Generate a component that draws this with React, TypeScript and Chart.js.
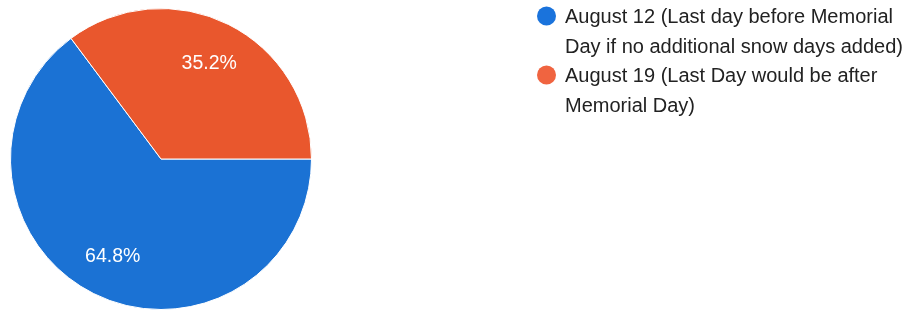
import React, { useEffect, useRef } from "react";
import { Chart, registerables } from "chart.js";

Chart.register(...registerables);

const categories = [
  "August 12 (Last day before Memorial Day if no additional snow days added)",
  "August 19 (Last Day would be after Memorial Day)",
];
const values = [64.8, 35.2];
const valueLabels = ["64.8%", "35.2%"];
const colors = ["#1b72d4", "#e9572d"];
const legendColors = ["#1a73dc", "#f06440"];

const FONT = "'Liberation Sans', Arial, Helvetica, sans-serif";

const sliceLabelPlugin = {
  id: "sliceLabels",
  afterDatasetsDraw(chart: any) {
    const ctx = chart.ctx;
    const meta = chart.getDatasetMeta(0);
    ctx.save();
    ctx.fillStyle = "#ffffff";
    ctx.font = `19.5px ${FONT}`;
    ctx.textAlign = "center";
    ctx.textBaseline = "middle";
    meta.data.forEach((arc: any, i: number) => {
      const { startAngle, endAngle, outerRadius, x, y } = arc.getProps(
        ["startAngle", "endAngle", "outerRadius", "x", "y"],
        true
      );
      const mid = (startAngle + endAngle) / 2;
      const r = outerRadius * 0.715;
      ctx.fillText(valueLabels[i], x + Math.cos(mid) * r, y + Math.sin(mid) * r + 1);
    });
    ctx.restore();
  },
};

const legendPlugin = {
  id: "wrapLegend",
  afterDraw(chart: any) {
    const ctx = chart.ctx;
    const left = 565;
    const maxW = 346;
    const lineH = 29.5;
    let y = 16.5;
    ctx.save();
    ctx.font = `20px ${FONT}`;
    ctx.textBaseline = "middle";
    ctx.textAlign = "left";
    chart.data.labels.forEach((label: string, i: number) => {
      const words = label.split(" ");
      const lines: string[] = [];
      let cur = "";
      words.forEach((w) => {
        const test = cur ? cur + " " + w : w;
        if (ctx.measureText(test).width > maxW && cur) {
          lines.push(cur);
          cur = w;
        } else cur = test;
      });
      if (cur) lines.push(cur);
      ctx.fillStyle = legendColors[i];
      ctx.beginPath();
      ctx.arc(546.5, y - 0.5, 9.5, 0, Math.PI * 2);
      ctx.fill();
      ctx.fillStyle = "#222222";
      lines.forEach((ln, j) => {
        ctx.fillText(ln, left, y + j * lineH + 1);
      });
      y += lines.length * lineH;
    });
    ctx.restore();
  },
};

export default function App() {
  const ref = useRef<HTMLCanvasElement>(null);
  useEffect(() => {
    document.body.style.margin = "0";
    const chart = new Chart(ref.current!, {
      type: "pie",
      data: {
        labels: categories,
        datasets: [
          {
            data: values,
            backgroundColor: colors,
            borderColor: "#ffffff",
            borderWidth: 1,
          },
        ],
      },
      options: {
        animation: false,
        responsive: false,
        rotation: 90,
        layout: { padding: { left: 10, top: 8, right: 603, bottom: 5 } },
        plugins: {
          legend: { display: false },
          tooltip: { enabled: false },
        },
      },
      plugins: [sliceLabelPlugin, legendPlugin],
    });
    return () => chart.destroy();
  }, []);
  return (
    <div style={{ width: 915, height: 315, background: "#fff" }}>
      <canvas ref={ref} width={915} height={315} style={{ display: "block" }} />
    </div>
  );
}
